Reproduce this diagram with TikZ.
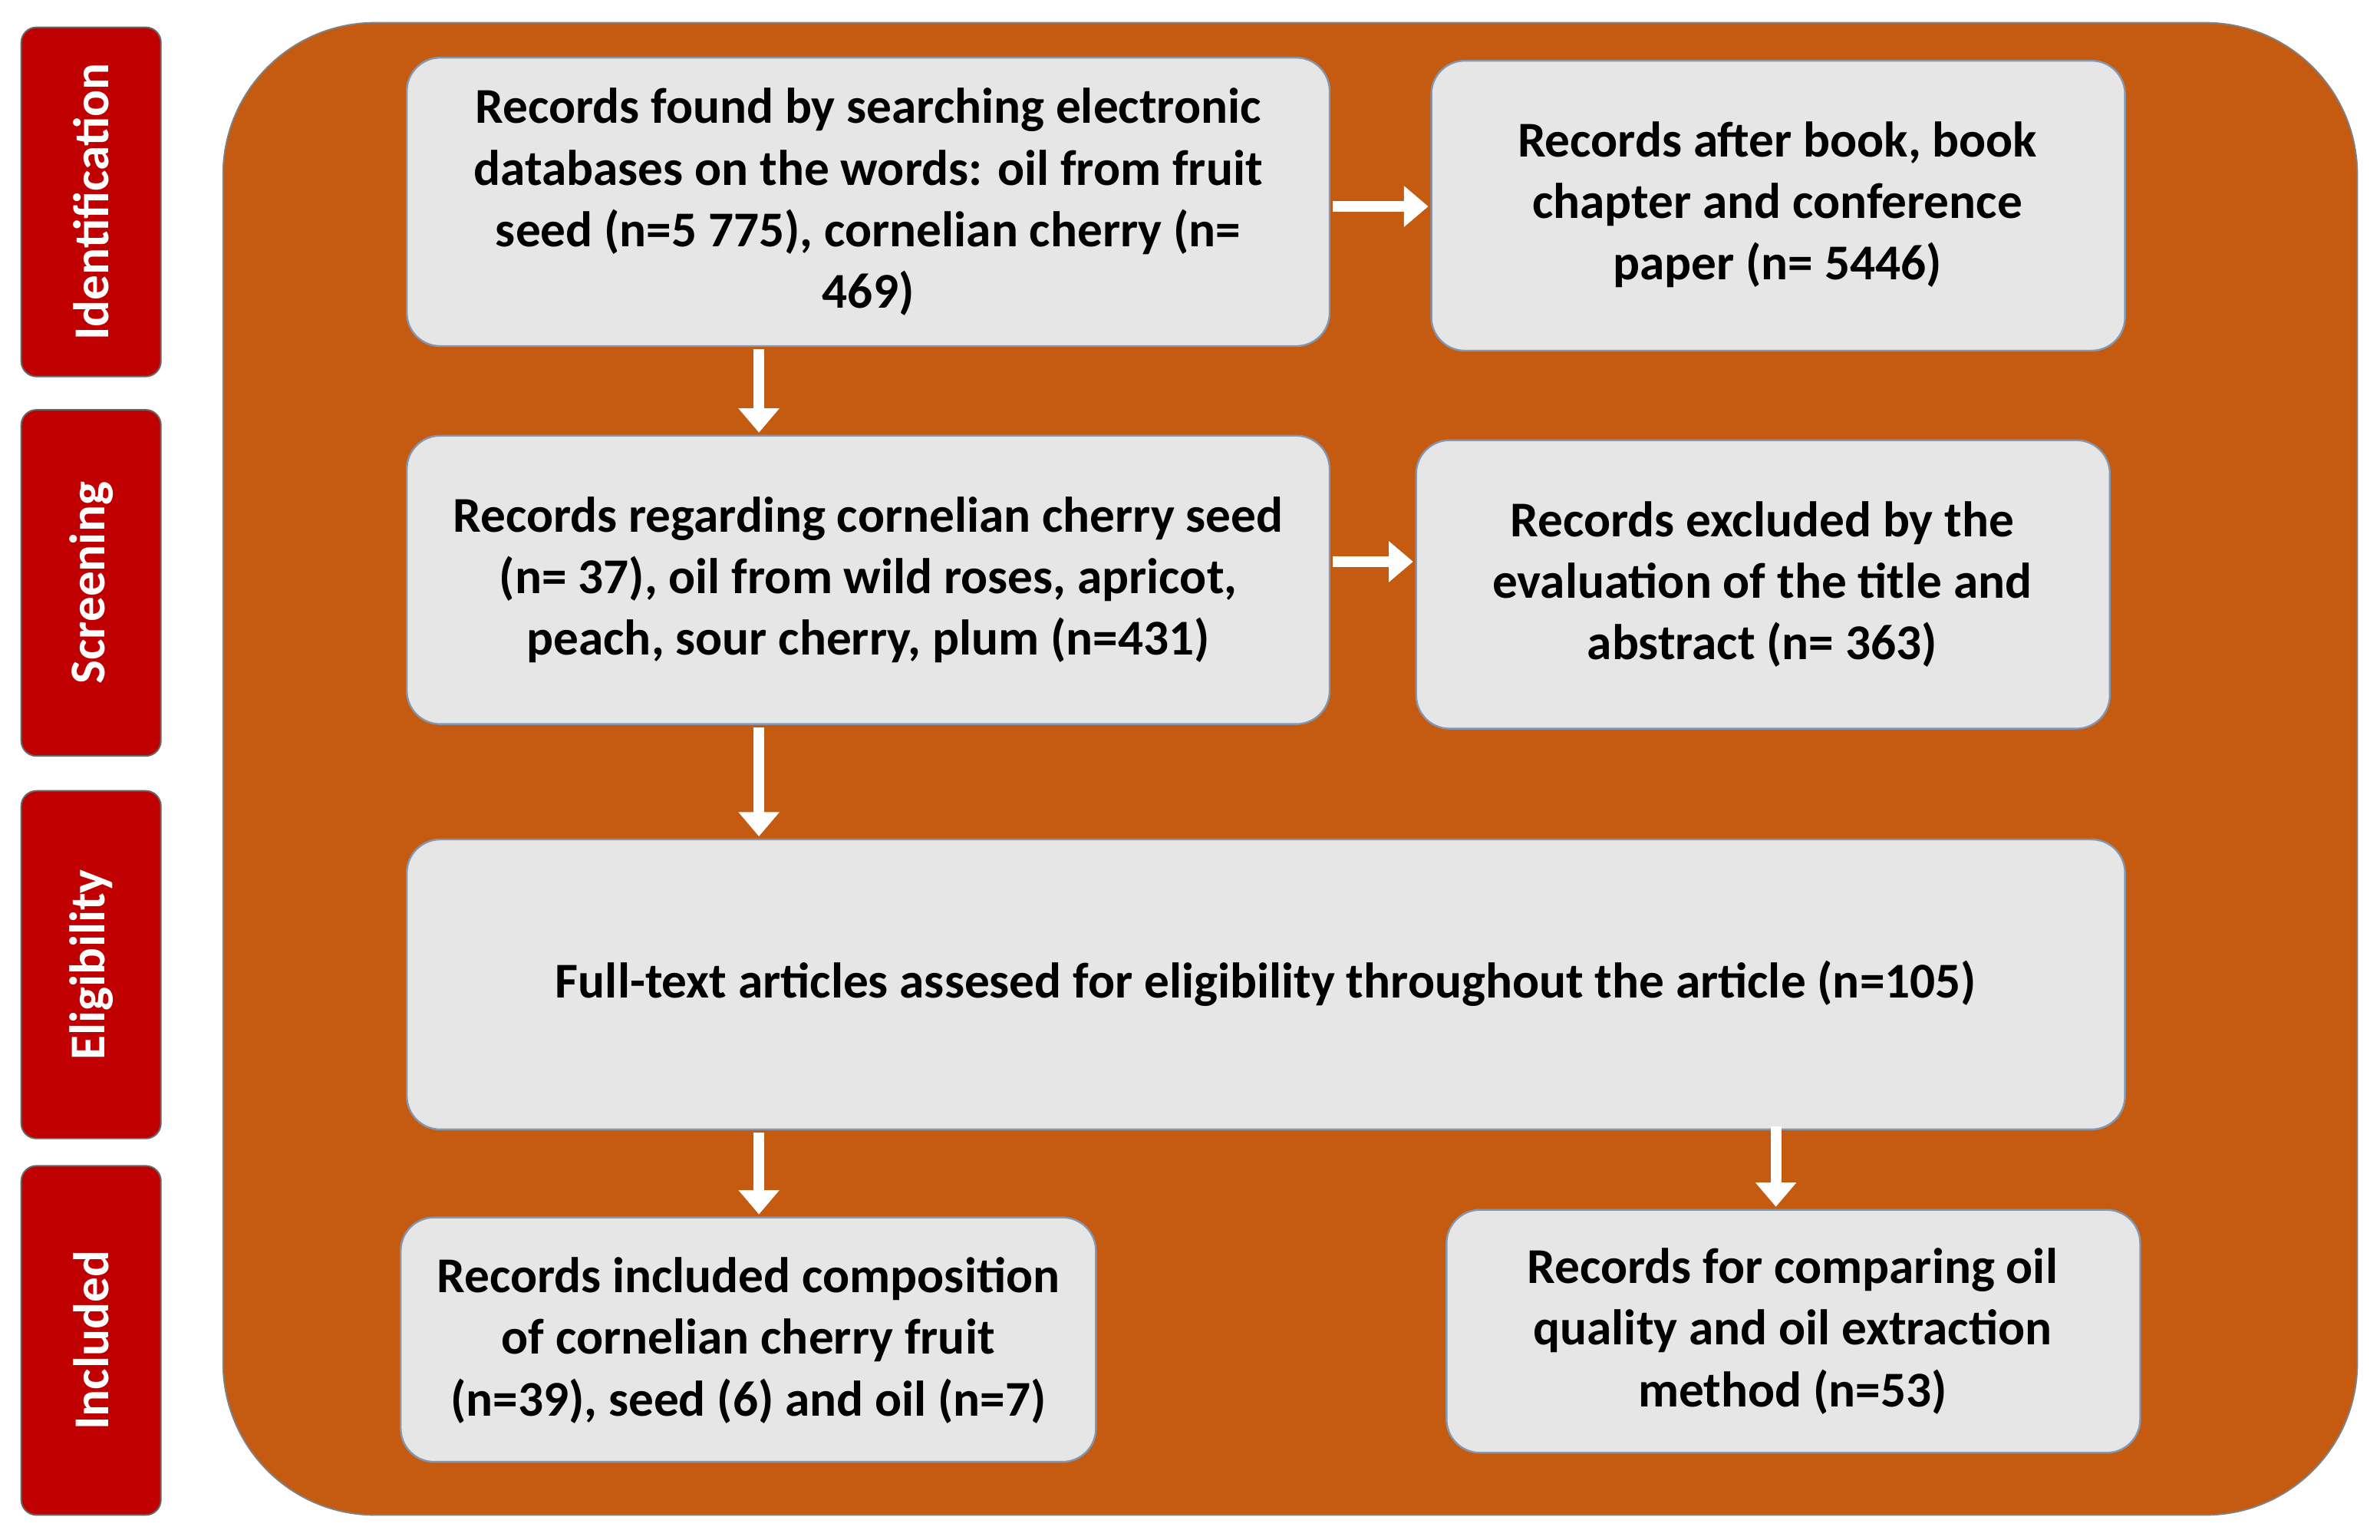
\documentclass[tikz,border=0pt]{standalone}
\usepackage{fontspec}
\setmainfont{Carlito}
\usetikzlibrary{arrows.meta}
\definecolor{tabred}{HTML}{C00000}
\definecolor{bgorange}{HTML}{C55A11}
\definecolor{boxgrey}{HTML}{E7E6E6}
\definecolor{boxedge}{HTML}{8497B0}
\begin{document}
\begin{tikzpicture}[x=1pt,y=-1pt,
  tab/.style={draw=black!60,line width=1pt,fill=tabred,rounded corners=10pt},
  tabtxt/.style={text=white,font=\fontsize{33}{38}\selectfont\bfseries,rotate=90},
  box/.style={draw=boxedge,line width=1.2pt,fill=boxgrey,rounded corners=22pt},
  txt/.style={align=center,font=\fontsize{33}{40.5}\selectfont\bfseries},
  arr/.style={draw=white,line width=7pt,-{Triangle[length=16pt,width=26pt]}}]
\useasboundingbox (0,0) rectangle (1568,1014);
\fill[white] (0,0) rectangle (1568,1014);
% tabs
\foreach \n/\a/\b/\t in {t1/18/248/Identification,t2/270/498/Screening,t3/521/750/Eligibility,t4/768/998/Included}{
  \draw[tab] (14,\a) rectangle (106,\b);
  \node[tabtxt] (\n) at (60,{(\a+\b)/2}) {\t};
}
% background
\draw[fill=bgorange,draw=black!50,line width=1pt,rounded corners=100pt] (147,15) rectangle (1553,998);
% boxes
\draw[box] (268,38) rectangle (876,228);
\node[txt] (b1) at (572,133) {Records found by searching electronic\\databases on the words: oil from fruit\\seed (n=5 775), cornelian cherry (n=\\469)};
\draw[box] (943,40) rectangle (1400,231);
\node[txt] (b2) at (1171,135) {Records after book, book\\chapter and conference\\paper (n= 5446)};
\draw[box] (268,287) rectangle (876,477);
\node[txt] (b3) at (572,382) {Records regarding cornelian cherry seed\\(n= 37), oil from wild roses, apricot,\\peach, sour cherry, plum (n=431)};
\draw[box] (933,290) rectangle (1390,480);
\node[txt] (b4) at (1161,385) {Records excluded by the\\evaluation of the title and\\abstract (n= 363)};
\draw[box] (268,553) rectangle (1400,744);
\node[txt] (b5) at (834,648) {Full-text articles assesed for eligibility throughout the article (n=105)};
\draw[box] (264,802) rectangle (722,963);
\node[txt] (b6) at (493,883) {Records included composition\\of cornelian cherry fruit\\(n=39), seed (6) and oil (n=7)};
\draw[box] (953,797) rectangle (1410,957);
\node[txt] (b7) at (1181,877) {Records for comparing oil\\quality and oil extraction\\method (n=53)};
% anchor coordinates
\coordinate (a1s) at (878,136); \coordinate (a1e) at (941,136);
\coordinate (a2s) at (500,230); \coordinate (a2e) at (500,285);
\coordinate (a3s) at (878,370); \coordinate (a3e) at (931,370);
\coordinate (a4s) at (500,479); \coordinate (a4e) at (500,551);
\coordinate (a5s) at (500,746); \coordinate (a5e) at (500,800);
\coordinate (a6s) at (1170,742); \coordinate (a6e) at (1170,795);
\foreach \i in {1,...,6}{\draw[arr] (a\i s) -- (a\i e);}
\end{tikzpicture}
\end{document}
